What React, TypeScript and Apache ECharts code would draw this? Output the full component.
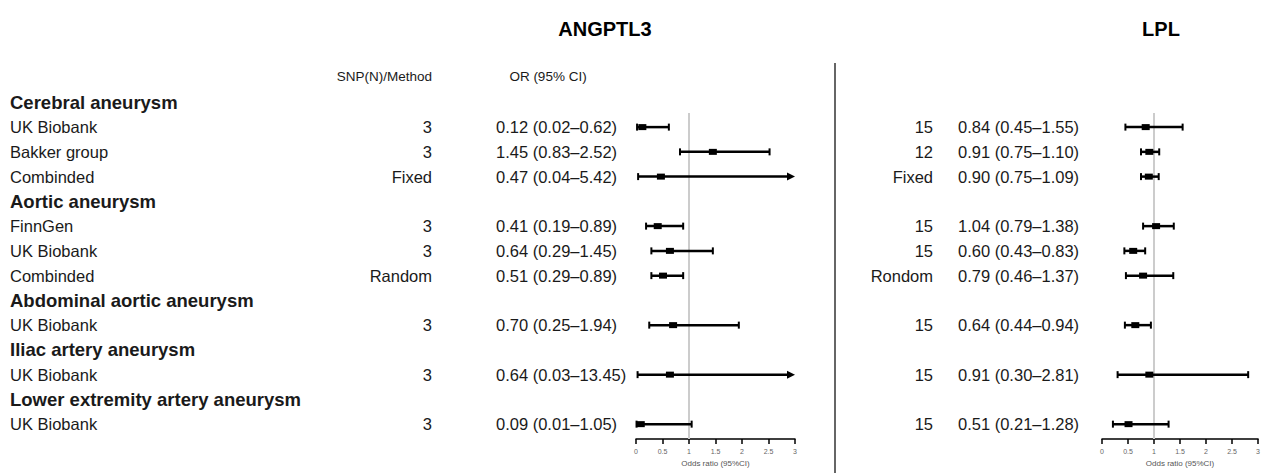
import React, { useEffect, useRef } from 'react';
import * as echarts from 'echarts';

const rowLabels = [
  'Cerebral aneurysm', 'UK Biobank', 'Bakker group', 'Combinded',
  'Aortic aneurysm', 'FinnGen', 'UK Biobank', 'Combinded',
  'Abdominal aortic aneurysm', 'UK Biobank',
  'Iliac artery aneurysm', 'UK Biobank',
  'Lower extremity artery aneurysm', 'UK Biobank',
];
const isGroup = [true, false, false, false, true, false, false, false, true, false, true, false, true, false];
const studyRows = [1, 2, 3, 5, 6, 7, 9, 11, 13];

const angMethod = ['3', '3', 'Fixed', '3', '3', 'Random', '3', '3', '3'];
const angOR = [0.12, 1.45, 0.47, 0.41, 0.64, 0.51, 0.70, 0.64, 0.09];
const angLo = [0.02, 0.83, 0.04, 0.19, 0.29, 0.29, 0.25, 0.03, 0.01];
const angHi = [0.62, 2.52, 5.42, 0.89, 1.45, 0.89, 1.94, 13.45, 1.05];

const lplMethod = ['15', '12', 'Fixed', '15', '15', 'Rondom', '15', '15', '15'];
const lplOR = [0.84, 0.91, 0.90, 1.04, 0.60, 0.79, 0.64, 0.91, 0.51];
const lplLo = [0.45, 0.75, 0.75, 0.79, 0.43, 0.46, 0.44, 0.30, 0.21];
const lplHi = [1.55, 1.10, 1.09, 1.38, 0.83, 1.37, 0.94, 2.81, 1.28];

const FONT = '"Liberation Sans", Arial, Helvetica, sans-serif';
const TXT = '#1a1a1a';
const REG = 16.5;
const BOLD = 18.5;
const fmt = (o: number, l: number, h: number) => `${o.toFixed(2)} (${l.toFixed(2)}–${h.toFixed(2)})`;

function ciSeries(idx: number, lo: number[], est: number[], hi: number[]) {
  return {
    type: 'custom',
    xAxisIndex: idx,
    yAxisIndex: idx,
    z: 5,
    clip: false,
    encode: { x: [0, 1, 2], y: 3 },
    data: studyRows.map((r, i) => [lo[i], est[i], hi[i], r]),
    renderItem: (params: any, api: any) => {
      const l = api.value(0), e = api.value(1), h = api.value(2), row = api.value(3);
      const y = api.coord([0, row])[1];
      const xLo = api.coord([l, row])[0];
      const xEst = api.coord([e, row])[0];
      const arrow = h > 3;
      const xHi = api.coord([Math.min(h, 3), row])[0];
      const children: any[] = [];
      children.push({ type: 'line', shape: { x1: xLo, y1: y, x2: arrow ? xHi - 6 : xHi, y2: y }, style: { stroke: '#000', lineWidth: 2.5 } });
      children.push({ type: 'line', shape: { x1: xLo, y1: y - 3.5, x2: xLo, y2: y + 3.5 }, style: { stroke: '#000', lineWidth: 2 } });
      if (!arrow) {
        children.push({ type: 'line', shape: { x1: xHi, y1: y - 3.5, x2: xHi, y2: y + 3.5 }, style: { stroke: '#000', lineWidth: 2 } });
      } else {
        children.push({ type: 'polygon', shape: { points: [[xHi - 8, y - 4], [xHi, y], [xHi - 8, y + 4]] }, style: { fill: '#000' } });
      }
      children.push({ type: 'rect', shape: { x: xEst - 4, y: y - 3, width: 8, height: 6 }, style: { fill: '#000' } });
      return { type: 'group', children };
    },
  };
}

function textSeries(idx: number, items: { row: number; text: string; x: number; align: string; bold?: boolean; size: number }[]) {
  return {
    type: 'custom',
    xAxisIndex: idx,
    yAxisIndex: idx,
    clip: false,
    silent: true,
    z: 4,
    data: items.map((it) => [0, it.row]),
    renderItem: (params: any, api: any) => {
      const it = items[params.dataIndex];
      const y = api.coord([0, api.value(1)])[1];
      return {
        type: 'text',
        x: it.x,
        y,
        style: {
          text: it.text,
          fill: TXT,
          align: it.align,
          verticalAlign: 'middle',
          font: `${it.bold ? 'bold ' : ''}${it.size}px ${FONT}`,
        },
      };
    },
  };
}

function refLine(idx: number) {
  return {
    type: 'scatter',
    xAxisIndex: idx,
    yAxisIndex: idx,
    data: [],
    z: 1,
    markLine: {
      silent: true,
      symbol: 'none',
      label: { show: false },
      lineStyle: { color: '#cccccc', width: 2, type: 'solid' },
      data: [{ xAxis: 1 }],
    },
  };
}

function xAxis(idx: number) {
  return {
    type: 'value',
    gridIndex: idx,
    min: 0,
    max: 3,
    interval: 0.5,
    splitLine: { show: false },
    axisLine: { show: true, lineStyle: { color: '#000', width: 1.5 } },
    axisTick: { show: true, length: 5, lineStyle: { color: '#000', width: 1.5 } },
    axisLabel: { fontSize: 7, color: '#666', margin: 9, fontFamily: FONT },
    name: 'Odds ratio (95%CI)',
    nameLocation: 'middle',
    nameGap: 20,
    nameTextStyle: { fontSize: 8, color: '#555', fontFamily: FONT },
  };
}

function yAxis(idx: number) {
  return { type: 'value', gridIndex: idx, min: 0.43, max: 13.6, inverse: true, show: false };
}

export default function App() {
  const ref = useRef<HTMLDivElement>(null);
  useEffect(() => {
    if (!ref.current) return;
    const chart = echarts.init(ref.current, undefined, { renderer: 'svg' });
    const leftItems: any[] = [];
    rowLabels.forEach((t, i) => {
      leftItems.push({ row: i, text: t, x: 10, align: 'left', bold: isGroup[i], size: isGroup[i] ? BOLD : REG });
    });
    studyRows.forEach((r, i) => {
      leftItems.push({ row: r, text: angMethod[i], x: 432, align: 'right', size: REG });
      leftItems.push({ row: r, text: fmt(angOR[i], angLo[i], angHi[i]), x: 496, align: 'left', size: REG });
    });
    const rightItems: any[] = [];
    studyRows.forEach((r, i) => {
      rightItems.push({ row: r, text: lplMethod[i], x: 933, align: 'right', size: REG });
      rightItems.push({ row: r, text: fmt(lplOR[i], lplLo[i], lplHi[i]), x: 958, align: 'left', size: REG });
    });
    chart.setOption({
      animation: false,
      backgroundColor: '#fff',
      grid: [
        { left: 636, width: 159, top: 113, height: 326 },
        { left: 1102, width: 157, top: 113, height: 326 },
      ],
      xAxis: [xAxis(0), xAxis(1)],
      yAxis: [yAxis(0), yAxis(1)],
      graphic: [
        { type: 'text', x: 605, y: 29, style: { text: 'ANGPTL3', align: 'center', verticalAlign: 'middle', fill: '#000', font: `bold 20px ${FONT}` } },
        { type: 'text', x: 1161, y: 29, style: { text: 'LPL', align: 'center', verticalAlign: 'middle', fill: '#000', font: `bold 20px ${FONT}` } },
        { type: 'text', x: 432, y: 76, style: { text: 'SNP(N)/Method', align: 'right', verticalAlign: 'middle', fill: TXT, font: `13.5px ${FONT}` } },
        { type: 'text', x: 548, y: 76, style: { text: 'OR (95% CI)', align: 'center', verticalAlign: 'middle', fill: TXT, font: `13.5px ${FONT}` } },
        { type: 'line', shape: { x1: 835, y1: 63, x2: 835, y2: 473 }, style: { stroke: '#333', lineWidth: 1.5 } },
      ],
      series: [
        refLine(0),
        refLine(1),
        textSeries(0, leftItems),
        textSeries(1, rightItems),
        ciSeries(0, angLo, angOR, angHi),
        ciSeries(1, lplLo, lplOR, lplHi),
      ],
    });
    return () => chart.dispose();
  }, []);
  return <div ref={ref} style={{ position: 'absolute', left: 0, top: 0, width: 1263, height: 473 }} />;
}
